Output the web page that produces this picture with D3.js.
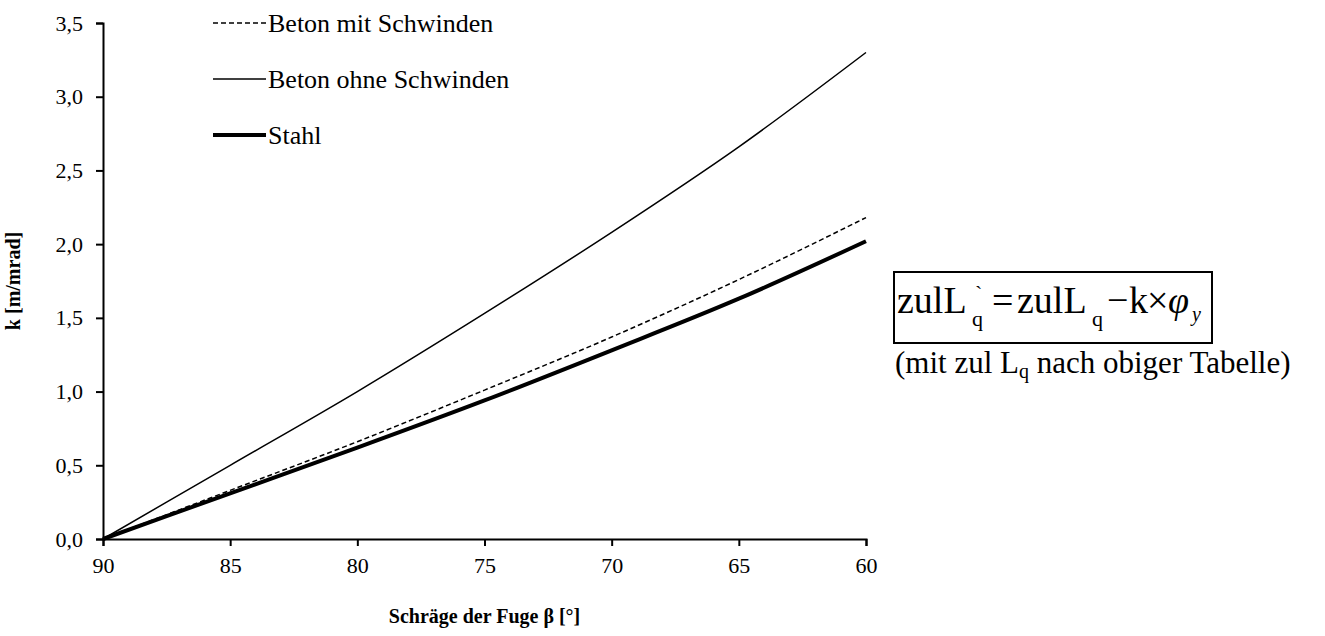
<!DOCTYPE html>
<html>
<head>
<meta charset="utf-8">
<script src="https://cdn.jsdelivr.net/npm/d3@7"></script>
<style>
  body { margin: 0; background: #fff; }
  svg { font-family: "Liberation Serif", "Times New Roman", serif; }
  .axis path, .axis line { stroke: #000; stroke-width: 2px; }
</style>
</head>
<body>
<svg id="chart" width="1325" height="636"></svg>
<script>
// Schraege der Fuge (deg) and k values
const beta = [90, 85, 80, 75, 70, 65, 60];
const betonMitSchwinden = [0, 0.33, 0.66, 1.01, 1.37, 1.76, 2.18];
const betonOhneSchwinden = [0, 0.50, 1.00, 1.53, 2.08, 2.66, 3.30];
const stahl = [0, 0.31, 0.62, 0.94, 1.28, 1.63, 2.02];

const xTicks = [90, 85, 80, 75, 70, 65, 60];
const yTicks = [0, 0.5, 1, 1.5, 2, 2.5, 3, 3.5];

const seriesNames = ["Beton mit Schwinden", "Beton ohne Schwinden", "Stahl"];

const serif = "'Liberation Serif', 'Times New Roman', serif";

const svg = d3.select("#chart");

const xScale = d3.scaleLinear().domain([90, 60]).range([103, 866]);
const yScale = d3.scaleLinear().domain([0, 3.5]).range([539, 23]);

const fmt = d => d3.format(".1f")(d).replace(".", ",");

// serif tick labels (d3 puts sans-serif on the group)
const styleAxis = g => {
    g.attr("font-family", serif).attr("font-size", 22);
    g.selectAll("text").style("font-family", serif).style("font-size", "22px").attr("fill", "#000");
};

// axes
svg.append("g")
    .attr("class", "axis")
    .attr("transform", `translate(0,${yScale(0)})`)
    .call(d3.axisBottom(xScale).tickValues(xTicks).tickSize(7).tickSizeOuter(7).tickPadding(8))
    .call(styleAxis)
    .call(g => g.selectAll("text").attr("dy", "0.85em"));

svg.append("g")
    .attr("class", "axis")
    .attr("transform", `translate(${xScale(90)},0)`)
    .call(d3.axisLeft(yScale).tickValues(yTicks).tickFormat(fmt).tickSize(7).tickSizeOuter(7).tickPadding(13))
    .call(styleAxis);

// axis titles
svg.append("text")
    .attr("x", (xScale(90) + xScale(60)) / 2)
    .attr("y", 623)
    .attr("text-anchor", "middle")
    .attr("font-size", 20)
    .attr("font-weight", "bold")
    .text("Schräge der Fuge β [°]");

svg.append("text")
    .attr("transform", `translate(20,${(yScale(0) + yScale(3.5)) / 2}) rotate(-90)`)
    .attr("text-anchor", "middle")
    .attr("font-size", 20)
    .attr("font-weight", "bold")
    .text("k [m/mrad]");

// lines
const styles = [
    { width: 1.5, dash: "5,3" },
    { width: 1.5, dash: null },
    { width: 4, dash: null }
];
const series = [betonMitSchwinden, betonOhneSchwinden, stahl];

const myLine = d3.line()
    .x(d => xScale(d[0]))
    .y(d => yScale(d[1]))
    .curve(d3.curveMonotoneX);

series.forEach((vals, i) => {
    svg.append("path")
        .datum(beta.map((b, j) => [b, vals[j]]))
        .attr("d", myLine)
        .attr("fill", "none")
        .attr("stroke", "#000")
        .attr("stroke-width", styles[i].width)
        .attr("stroke-dasharray", styles[i].dash);
});

// legend
const legend = svg.append("g");
seriesNames.forEach((name, i) => {
    const y = 23 + i * 56;
    legend.append("line")
        .attr("x1", 213).attr("x2", 266)
        .attr("y1", y).attr("y2", y)
        .attr("stroke", "#000")
        .attr("stroke-width", styles[i].width)
        .attr("stroke-dasharray", styles[i].dash);
    legend.append("text")
        .attr("x", 268).attr("y", y)
        .attr("dy", "0.35em")
        .attr("font-size", 26)
        .text(name);
});

// formula box
const box = svg.append("g");
box.append("rect")
    .attr("x", 894).attr("y", 272)
    .attr("width", 318).attr("height", 71)
    .attr("fill", "none")
    .attr("stroke", "#000")
    .attr("stroke-width", 2);

const base = 313;
const f = box.append("g").attr("font-size", 38);
f.append("text").attr("x", 897).attr("y", base).text("zulL");
f.append("text").attr("x", 975).attr("y", base - 12).attr("font-size", 22).text("`");
f.append("text").attr("x", 972).attr("y", base + 13).attr("font-size", 22).text("q");
f.append("text").attr("x", 992).attr("y", base).text("=");
f.append("text").attr("x", 1017).attr("y", base).text("zulL");
f.append("text").attr("x", 1092).attr("y", base + 13).attr("font-size", 22).text("q");
f.append("text").attr("x", 1107).attr("y", base).text("−");
f.append("text").attr("x", 1129).attr("y", base).text("k");
f.append("text").attr("x", 1147).attr("y", base).text("×");
f.append("text").attr("x", 1168).attr("y", base).attr("font-style", "italic").text("φ");
f.append("text").attr("x", 1192).attr("y", base + 8).attr("font-size", 20).attr("font-style", "italic").text("y");

const note = svg.append("text")
    .attr("x", 895).attr("y", 373)
    .attr("font-size", 31);
note.append("tspan").text("(mit zul L");
note.append("tspan").attr("font-size", 20).attr("dy", 5).text("q");
note.append("tspan").attr("dy", -5).text(" nach obiger Tabelle)");
</script>
</body>
</html>
